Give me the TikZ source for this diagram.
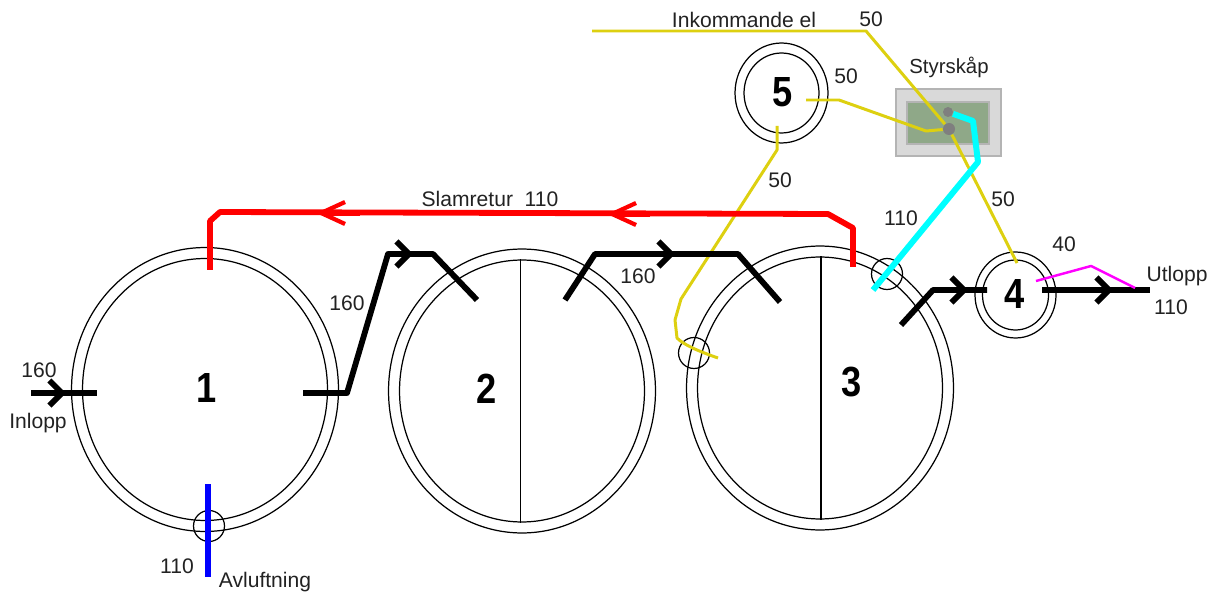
\documentclass[tikz,border=0pt]{standalone}
\usepackage{fontspec}
\setmainfont{Liberation Sans}
\usepackage{tikz}
\usetikzlibrary{arrows.meta,shapes.geometric}

\definecolor{wireyellow}{HTML}{DDD010}
\definecolor{boxgreen}{HTML}{8FA888}
\definecolor{boxgrey}{HTML}{D9D9D9}
\definecolor{edgegrey}{HTML}{B4B4B4}
\definecolor{dotgrey}{HTML}{7F7F7F}
\definecolor{labelgrey}{HTML}{222222}
\definecolor{pipecyan}{HTML}{00FFFF}
\definecolor{pipeblue}{HTML}{0000FF}
\definecolor{pipered}{HTML}{FF0000}
\definecolor{ventpink}{HTML}{FF00FF}

\tikzset{
    tankouter/.style={ellipse, draw=black, line width=0.7pt, inner sep=0, minimum width=5.34cm, minimum height=5.68cm},
    tankinner/.style={ellipse, draw=black, line width=0.7pt, inner sep=0, minimum width=4.9cm, minimum height=5.24cm},
    hatch/.style={circle, draw=black, line width=0.7pt, inner sep=0, minimum size=0.62cm},
    num/.style={font=\fontsize{24}{24}\bfseries, xscale=0.86},
    lbl/.style={font=\fontsize{12}{13}\selectfont, text=labelgrey, inner sep=0},
    pipe/.style={line width=3.3pt, line join=round},
    blackpipe/.style={pipe, black, >={Straight Barb[length=2.5mm, width=5mm]}},
    redpipe/.style={pipe, pipered, >={Straight Barb[length=4.8mm, width=4.4mm, line width=2.4pt]}},
    wire/.style={wireyellow, line width=1.7pt, line join=round}
}

\begin{document}
\begin{tikzpicture}[x=0.02cm, y=-0.02cm]
    \useasboundingbox (0, 0) rectangle (1216, 594);

    \node[tankouter] (tank1) at (205, 389.5) {};
    \node[tankinner] (tank1in) at (205, 389.5) {};
    \node[tankouter] (tank2) at (522, 391) {};
    \node[tankinner] (tank2in) at (522, 391) {};
    \node[tankouter] (tank3) at (820, 388) {};
    \node[tankinner] (tank3in) at (820, 388) {};
    \draw[black, line width=0.6pt] ([xshift=-0.025cm]tank2in.north) -- ([xshift=-0.025cm]tank2in.south);
    \draw[black, line width=0.6pt] ([xshift=0.02cm]tank3in.north) -- ([xshift=0.02cm]tank3in.south);

    \node[ellipse, draw=black, line width=0.7pt, inner sep=0, minimum width=1.86cm, minimum height=2cm] (well5) at (781.5, 93) {};
    \node[ellipse, draw=black, line width=0.7pt, inner sep=0, minimum width=1.5cm, minimum height=1.6cm] (well5in) at (781.5, 93) {};
    \node[ellipse, draw=black, line width=0.7pt, inner sep=0, minimum width=1.62cm, minimum height=1.72cm] (well4) at (1015.5, 295) {};
    \node[ellipse, draw=black, line width=0.7pt, inner sep=0, minimum width=1.32cm, minimum height=1.4cm] (well4in) at (1015.5, 295) {};

    \node[hatch] (hatch1) at (209, 526) {};
    \node[hatch] (hatch2) at (694, 353) {};
    \node[hatch] (hatch3) at (887, 274) {};

    \node[num] (n1) at (207, 388) {1};
    \node[num] (n2) at (487, 389) {2};
    \node[num] (n3) at (852, 382) {3};
    \node[num] (n4) at (1015, 294) {4};
    \node[num] (n5) at (783, 92) {5};

    \node[draw=edgegrey, fill=boxgrey, line width=0.7pt, inner sep=0, minimum width=2.1cm, minimum height=1.34cm] (cabinet) at (948.5, 122.5) {};
    \node[draw=edgegrey, fill=boxgreen, line width=0.7pt, inner sep=0, minimum width=1.64cm, minimum height=0.84cm] (panel) at (948, 123) {};
    \node[circle, fill=dotgrey, inner sep=0, minimum size=0.2cm] (dotA) at (948, 112) {};
    \node[circle, fill=dotgrey, inner sep=0, minimum size=0.24cm] (dotB) at (949, 129) {};

    \coordinate (inkom) at (592, 31);
    \coordinate (wire5a) at (806, 100);
    \coordinate (wire5b) at (777, 126);
    \coordinate (wire4) at (1017, 263);
    \coordinate (wire3) at (718, 358);
    \draw[wire] (inkom) -- (866, 31) -- (dotB);
    \draw[wire] (wire5a) -- (839, 100) -- (926, 131) -- (dotB);
    \draw[wire] (dotB) -- (wire4);
    \draw[wire] (wire5b) -- (777, 150) -- (681, 299) -- (675, 320) -- (677, 338) .. controls (684, 345) and (698, 351) .. (wire3);

    \coordinate (slam1) at (210, 270);
    \coordinate (slam3) at (853, 267);
    \coordinate (slamtipA) at (607, 214);
    \coordinate (slamtipB) at (316, 213);
    \draw[redpipe] (slam3) -- (853, 228) -- (828, 214) -- (220, 212) -- (210, 221) -- (slam1);
    \draw[redpipe, ->] (650, 214) -- (slamtipA);
    \draw[redpipe, ->] (360, 213) -- (slamtipB);

    \coordinate (inA) at (31, 393);
    \coordinate (inB) at (97, 393);
    \coordinate (intip) at (66, 393);
    \draw[blackpipe] (inA) -- (inB);
    \draw[blackpipe, ->] (inA) -- (intip);

    \coordinate (outA) at (303, 393);
    \coordinate (outB) at (477, 300);
    \coordinate (outtip) at (413, 254);
    \draw[blackpipe] (outA) -- (347, 393) -- (388, 254) -- (433, 254) -- (outB);
    \draw[blackpipe, ->] (388, 254) -- (outtip);

    \coordinate (overA) at (565, 300);
    \coordinate (overB) at (780, 302);
    \coordinate (overtip) at (675, 254);
    \draw[blackpipe] (overA) -- (595, 254) -- (738, 254) -- (overB);
    \draw[blackpipe, ->] (595, 254) -- (overtip);

    \coordinate (lastA) at (901, 325);
    \coordinate (lastB) at (987, 290);
    \coordinate (lasttip) at (968, 290);
    \draw[blackpipe] (lastA) -- (933, 290) -- (lastB);
    \draw[blackpipe, ->] (933, 290) -- (lasttip);

    \coordinate (utA) at (1042, 290);
    \coordinate (utB) at (1150, 290);
    \coordinate (uttip) at (1113, 290);
    \draw[blackpipe] (utA) -- (utB);
    \draw[blackpipe, ->] (utA) -- (uttip);

    \coordinate (airA) at (208, 484);
    \coordinate (airB) at (208, 577);
    \draw[pipeblue, line width=3.3pt] (airA) -- (airB);

    \coordinate (ventA) at (1036, 281);
    \coordinate (ventB) at (1135, 288);
    \draw[ventpink, line width=1.4pt, line join=round] (ventA) -- (1091, 266) -- (ventB);

    \coordinate (cyanB) at (873, 290);
    \draw[pipecyan, line width=3.4pt, line join=round] (dotA) -- (973, 121) -- (978, 162) -- (cyanB);

    \node[lbl] (lblIn) at (39, 370) {160};
    \node[lbl] (lblInlopp) at (38, 423) {Inlopp};
    \node[lbl] (lblAir) at (177, 566) {110};
    \node[lbl] (lblAvl) at (265, 582) {Avluftning};
    \node[lbl] (lblOut) at (347, 303) {160};
    \node[lbl] (lblOver) at (638, 276) {160};
    \node[lbl] (lblSlam) at (490, 199) {Slamretur\ \ 110};
    \node[lbl] (lbl50a) at (780, 180) {50};
    \node[lbl] (lbl110) at (901, 218) {110};
    \node[lbl] (lbl50b) at (1003, 199) {50};
    \node[lbl] (lbl40) at (1064, 244) {40};
    \node[lbl] (lblUt) at (1177, 276) {Utlopp};
    \node[lbl] (lblUt110) at (1171, 307) {110};
    \node[lbl] (lbl50c) at (871, 19) {50};
    \node[lbl] (lbl50d) at (846, 76) {50};
    \node[font=\fontsize{11.6}{13}\selectfont, text=labelgrey, inner sep=0] (lblStyr) at (949, 67) {Styrskåp};
    \node[lbl] (lblInk) at (744, 20) {Inkommande el};
\end{tikzpicture}
\end{document}
